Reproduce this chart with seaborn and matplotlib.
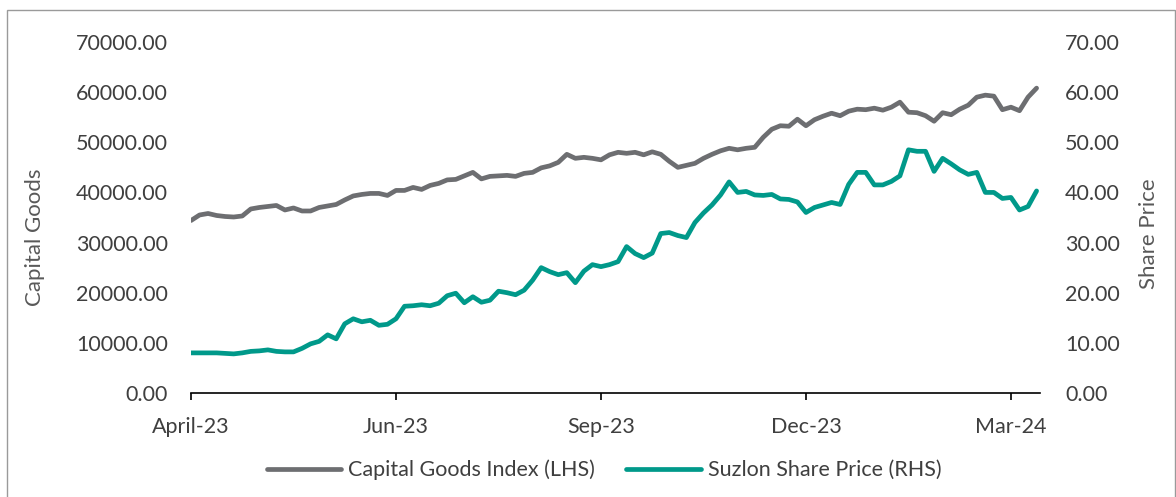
import numpy as np
import pandas as pd
import matplotlib
matplotlib.use("Agg")
import matplotlib.pyplot as plt
import matplotlib.patches as patches
import seaborn as sns

# daily-ish series (trading-day index)
capital_goods = [
    34400, 35500, 35800, 35400, 35200, 35100, 35300, 36700, 37000, 37200,
    37400, 36500, 36900, 36300, 36300, 37000, 37300, 37600, 38500, 39300,
    39600, 39800, 39800, 39400, 40400, 40400, 41000, 40600, 41400, 41800,
    42500, 42600, 43300, 44000, 42700, 43200, 43300, 43400, 43200, 43800,
    44000, 44900, 45300, 46000, 47600, 46800, 47000, 46800, 46500, 47500,
    48000, 47800, 48000, 47500, 48100, 47600, 46200, 45000, 45400, 45800,
    46800, 47600, 48300, 48800, 48500, 48800, 49000, 51000, 52600, 53300,
    53200, 54600, 53300, 54500, 55200, 55800, 55300, 56200, 56600, 56500,
    56800, 56400, 57000, 58000, 56000, 55900, 55300, 54200, 55900, 55500,
    56600, 57400, 59000, 59400, 59200, 56500, 57000, 56300, 59000, 60800,
]
suzlon = [
    8.0, 8.0, 8.0, 8.0, 7.9, 7.8, 8.0, 8.3, 8.4, 8.6,
    8.3, 8.2, 8.2, 8.9, 9.8, 10.3, 11.6, 10.8, 13.8, 14.8,
    14.2, 14.5, 13.5, 13.7, 14.8, 17.3, 17.4, 17.6, 17.4, 17.9,
    19.4, 19.9, 18.0, 19.2, 18.1, 18.5, 20.3, 20.0, 19.6, 20.5,
    22.5, 25.0, 24.2, 23.6, 24.0, 22.0, 24.3, 25.6, 25.2, 25.6,
    26.2, 29.2, 27.8, 27.0, 27.9, 31.8, 32.0, 31.4, 31.0, 34.0,
    35.9, 37.5, 39.5, 42.1, 40.0, 40.2, 39.5, 39.4, 39.6, 38.7,
    38.6, 38.1, 36.0, 37.0, 37.5, 38.0, 37.6, 41.6, 44.0, 44.0,
    41.5, 41.5, 42.2, 43.3, 48.5, 48.2, 48.2, 44.2, 46.8, 45.7,
    44.5, 43.6, 44.0, 40.0, 40.0, 38.8, 39.0, 36.5, 37.2, 40.3,
]
tick_idx = [0, 24, 48, 72, 96]
tick_labels = ["April-23", "Jun-23", "Sep-23", "Dec-23", "Mar-24"]

df = pd.DataFrame({"day": np.arange(len(capital_goods)),
                   "cg": capital_goods, "suzlon": suzlon})

sns.set_style("white")
plt.rcParams["font.family"] = ["Lato", "DejaVu Sans"]

GREY = "#6d6e71"
TEAL = "#00998a"
TXT = "#3f3f3f"

fig = plt.figure(figsize=(11.76, 4.97), dpi=100)
ax = fig.add_axes([191 / 1176, 104 / 497, 849 / 1176, 351 / 497])
ax2 = ax.twinx()

sns.lineplot(data=df, x="day", y="cg", ax=ax, color=GREY, linewidth=3.4,
             label="Capital Goods Index (LHS)", legend=False)
sns.lineplot(data=df, x="day", y="suzlon", ax=ax2, color=TEAL, linewidth=3.4,
             label="Suzlon Share Price (RHS)", legend=False)

ax.set_xlim(0, 99.4)
ax.set_ylim(0, 70000)
ax2.set_ylim(0, 70)
ax.set_yticks(np.arange(0, 70001, 10000))
ax2.set_yticks(np.arange(0, 71, 10))
ax.set_yticklabels([f"{v:.2f}" for v in np.arange(0, 70001, 10000)])
ax2.set_yticklabels([f"{v:.2f}" for v in np.arange(0, 71, 10)])
ax.set_xticks(tick_idx)
ax.set_xticklabels(tick_labels)

for a in (ax, ax2):
    for s in ("top", "left", "right", "bottom"):
        a.spines[s].set_visible(False)
ax.spines["bottom"].set_visible(True)
ax.spines["bottom"].set_color("black")
ax.spines["bottom"].set_linewidth(1.2)

ax.tick_params(axis="y", length=0, pad=16.5, labelsize=15.5, labelcolor=TXT)
ax2.tick_params(axis="y", length=0, pad=18, labelsize=15.5, labelcolor=TXT)
ax.tick_params(axis="x", length=5, width=1.2, color="black", direction="out",
               pad=12, labelsize=15.5, labelcolor=TXT, bottom=True)

ax.set_xlabel("")
ax.set_ylabel("Capital Goods", fontsize=16, color="#595959")
ax2.set_ylabel("Share Price", fontsize=16, color="#595959")
ax.yaxis.set_label_coords(-146 / 849, 0.444)
ax2.yaxis.set_label_coords(1 + 99 / 849, 0.453)

h1, l1 = ax.get_legend_handles_labels()
h2, l2 = ax2.get_legend_handles_labels()
fig.legend(h1 + h2, l1 + l2, loc="center", bbox_to_anchor=(604 / 1176, 1 - 470 / 497),
           ncol=2, frameon=False, fontsize=15.5, handlelength=3.45, handletextpad=0.33,
           columnspacing=1.45, labelcolor=TXT)

fig.patches.append(patches.Rectangle((7 / 1176, -0.05), 1168 / 1176, 1 - 10 / 497 + 0.05,
                                     transform=fig.transFigure, fill=False,
                                     edgecolor="#9a9a9a", linewidth=1.0))

fig.savefig("out.png", dpi=100)
